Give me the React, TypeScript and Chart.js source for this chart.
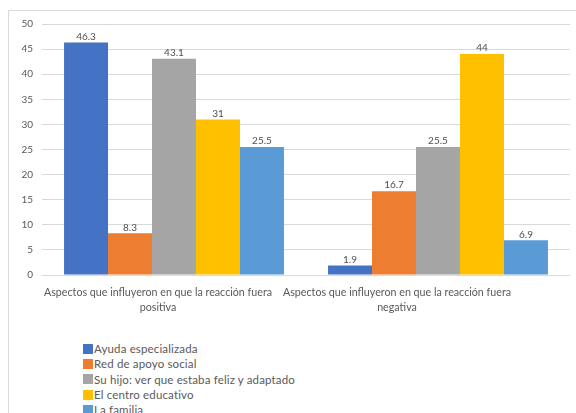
import React, { useEffect, useRef } from "react";
import { Chart, registerables } from "chart.js";

Chart.register(...registerables);

const categories: string[][] = [
  ["Aspectos que influyeron en que la reacción fuera", "positiva"],
  ["Aspectos que influyeron en que la reacción fuera", "negativa"],
];
const seriesNames = [
  "Ayuda especializada",
  "Red de apoyo social",
  "Su hijo: ver que estaba feliz y adaptado",
  "El centro educativo",
  "La familia",
];
const ayudaEspecializada = [46.3, 1.9];
const redApoyoSocial = [8.3, 16.7];
const suHijo = [43.1, 25.5];
const centroEducativo = [31, 44];
const laFamilia = [25.5, 6.9];
const seriesValues = [ayudaEspecializada, redApoyoSocial, suHijo, centroEducativo, laFamilia];
const seriesColors = ["#4472C4", "#ED7D31", "#A5A5A5", "#FFC000", "#5B9BD5"];
const yTicks = [0, 5, 10, 15, 20, 25, 30, 35, 40, 45, 50];

const FONT = "Lato, 'Open Sans', sans-serif";
// horizontal shift of each category caption relative to its group centre
const captionShift = [-16, -41];

const valueLabels = {
  id: "valueLabels",
  afterDatasetsDraw(chart: Chart) {
    const ctx = chart.ctx;
    ctx.save();
    ctx.font = `10px ${FONT}`;
    ctx.fillStyle = "#505050";
    ctx.textAlign = "center";
    ctx.textBaseline = "bottom";
    chart.data.datasets.forEach((ds, i) => {
      const meta = chart.getDatasetMeta(i);
      meta.data.forEach((bar: any, j: number) => {
        ctx.fillText(String(ds.data[j]), bar.x, bar.y - 1);
      });
    });
    ctx.restore();
  },
};

const categoryCaptions = {
  id: "categoryCaptions",
  afterDraw(chart: Chart) {
    const ctx = chart.ctx;
    const xScale: any = chart.scales.x;
    ctx.save();
    ctx.font = `10.7px ${FONT}`;
    ctx.fillStyle = "#595959";
    ctx.textAlign = "center";
    ctx.textBaseline = "middle";
    categories.forEach((lines, i) => {
      const cx = xScale.getPixelForTick(i) + captionShift[i];
      lines.forEach((line, k) => {
        ctx.fillText(line, cx, chart.chartArea.bottom + 17.5 + k * 15.5);
      });
    });
    ctx.restore();
  },
};

export default function App() {
  const canvasRef = useRef<HTMLCanvasElement>(null);

  useEffect(() => {
    if (!canvasRef.current) return;
    const chart = new Chart(canvasRef.current, {
      type: "bar",
      data: {
        labels: categories,
        datasets: seriesNames.map((name, i) => ({
          label: name,
          data: seriesValues[i],
          backgroundColor: seriesColors[i],
          borderWidth: 0,
          barPercentage: 1,
          categoryPercentage: 0.833,
        })),
      },
      options: {
        animation: false,
        responsive: false,
        maintainAspectRatio: false,
        layout: { padding: { top: 24, left: 10, right: 6, bottom: 0 } },
        plugins: {
          legend: { display: false },
          tooltip: { enabled: false },
          title: { display: false },
        },
        scales: {
          x: {
            grid: { display: false, drawTicks: false },
            border: { display: false },
            ticks: { display: false },
            afterFit: (s: any) => {
              s.height = 55;
            },
          },
          y: {
            min: 0,
            max: 50,
            afterBuildTicks: (s: any) => {
              s.ticks = yTicks.map((v) => ({ value: v }));
            },
            grid: { color: "#d9d9d9", drawTicks: false },
            border: { display: false },
            ticks: {
              color: "#595959",
              font: { family: FONT, size: 10 },
              padding: 9,
            },
            afterFit: (s: any) => {
              s.width = 32;
            },
          },
        },
      },
      plugins: [valueLabels, categoryCaptions],
    });
    return () => chart.destroy();
  }, []);

  return (
    <div
      style={{
        position: "fixed",
        left: 0,
        top: 0,
        width: 576,
        height: 413,
        overflow: "hidden",
        background: "#fff",
      }}
    >
      <div
        style={{
          position: "absolute",
          left: 8,
          top: 10,
          width: 600,
          height: 430,
          border: "1px solid #d9d9d9",
          boxSizing: "border-box",
        }}
      />
      <canvas
        ref={canvasRef}
        width={576}
        height={330}
        style={{ position: "absolute", left: 0, top: 0, width: 576, height: 330 }}
      />
      <div
        style={{
          position: "absolute",
          left: 83,
          top: 341,
          fontFamily: FONT,
          fontSize: 11.5,
          letterSpacing: "0.15px",
          color: "#595959",
          lineHeight: "15.3px",
        }}
      >
        {seriesNames.map((name, i) => (
          <div key={name} style={{ display: "flex", alignItems: "center", whiteSpace: "nowrap" }}>
            <span
              style={{
                display: "inline-block",
                width: 10,
                height: 10,
                background: seriesColors[i],
                marginRight: 1,
              }}
            />
            {name}
          </div>
        ))}
      </div>
    </div>
  );
}
